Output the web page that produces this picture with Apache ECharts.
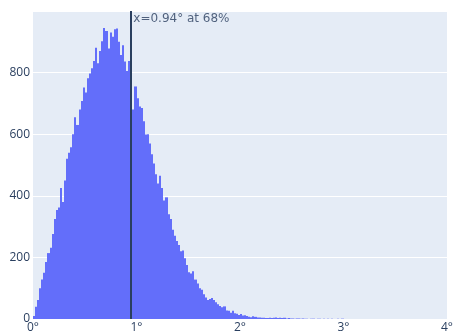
<!DOCTYPE html>
<html>
<head>
<meta charset="utf-8">
<script src="https://cdn.jsdelivr.net/npm/echarts@6/dist/echarts.min.js"></script>
<style>html,body{margin:0;padding:0;background:#fff}#c{width:456px;height:334px}</style>
</head>
<body>
<div id="c"></div>
<script>
// Histogram bin width (degrees) and counts per bin, starting at 0°
const binWidth = 0.02;
const counts = [
  10, 40, 62, 100, 128, 150, 185, 214, 231, 276,
  325, 354, 362, 425, 380, 450, 520, 540, 558, 600,
  655, 630, 680, 708, 752, 735, 782, 797, 814, 838,
  881, 830, 870, 902, 945, 935, 878, 930, 916, 941,
  943, 900, 857, 889, 836, 805, 838, 793, 680, 755,
  717, 690, 685, 642, 599, 600, 570, 535, 505, 470,
  440, 465, 425, 385, 395, 340, 325, 290, 270, 253,
  240, 220, 222, 197, 175, 152, 148, 155, 128, 115,
  100, 95, 80, 70, 62, 65, 68, 62, 54, 48,
  42, 38, 41, 28, 27, 20, 27, 19, 17, 13,
  16, 11, 12, 10, 7, 6, 9, 7, 5, 5,
  4, 4, 3, 3, 4, 3, 4, 5, 3, 4,
  3, 4, 2, 3, 2, 2, 1, 2, 2, 1,
  2, 1, 1, 0, 1, 1, 0, 1, 1, 0,
  1, 0, 1, 0, 1, 0, 0, 1, 0, 1
];
const xTicks = [0, 1, 2, 3, 4];
const yTicks = [0, 200, 400, 600, 800];
const markerX = 0.94;
const markerText = 'x=0.94° at 68%';

const chart = echarts.init(document.getElementById('c'), null, {renderer: 'canvas'});
const font = '"Open Sans", "Noto Sans", sans-serif';
const txt = '#2a3f5f';

const binData = counts.map((v, i) => [i * binWidth, (i + 1) * binWidth, v]);

chart.setOption({
  animation: false,
  backgroundColor: '#ffffff',
  grid: {left: 33, right: 6, top: 11, bottom: 14, show: true, backgroundColor: '#E5ECF6', borderWidth: 0},
  xAxis: {
    type: 'value', min: xTicks[0], max: xTicks[xTicks.length - 1], interval: 1,
    axisLine: {show: false}, axisTick: {show: false}, splitLine: {show: false},
    axisLabel: {color: txt, fontFamily: font, fontSize: 12, margin: 3, formatter: v => v + '°'}
  },
  yAxis: {
    type: 'value', min: 0, max: 1000, interval: 200,
    axisLine: {show: false}, axisTick: {show: false},
    splitLine: {lineStyle: {color: '#ffffff', width: 1}},
    axisLabel: {color: txt, fontFamily: font, fontSize: 12, margin: 3,
      formatter: v => yTicks.indexOf(v) >= 0 ? String(v) : ''}
  },
  series: [
    {
      type: 'custom',
      data: binData,
      encode: {x: [0, 1], y: 2},
      renderItem: function (params, api) {
        if (api.value(2) <= 0) return null;
        const p0 = api.coord([api.value(0), api.value(2)]);
        const p1 = api.coord([api.value(1), 0]);
        const x0 = Math.round(p0[0]);
        const x1 = Math.round(p1[0]);
        return {
          type: 'rect',
          shape: {x: x0, y: p0[1], width: Math.max(1, x1 - x0), height: p1[1] - p0[1]},
          style: {fill: '#636efa'}
        };
      },
      markLine: {
        silent: true, symbol: 'none',
        lineStyle: {color: '#2a3f5f', width: 2, type: 'solid'},
        label: {show: false},
        data: [{xAxis: markerX}]
      },
      z: 2
    },
    {
      type: 'scatter',
      data: [[markerX, 1000]],
      symbolSize: 0,
      silent: true,
      label: {show: true, formatter: markerText, position: [3, 2], align: 'left', verticalAlign: 'top',
        color: txt, fontFamily: '"DejaVu Sans", sans-serif', fontSize: 12},
      z: 5
    }
  ]
});
</script>
</body>
</html>
